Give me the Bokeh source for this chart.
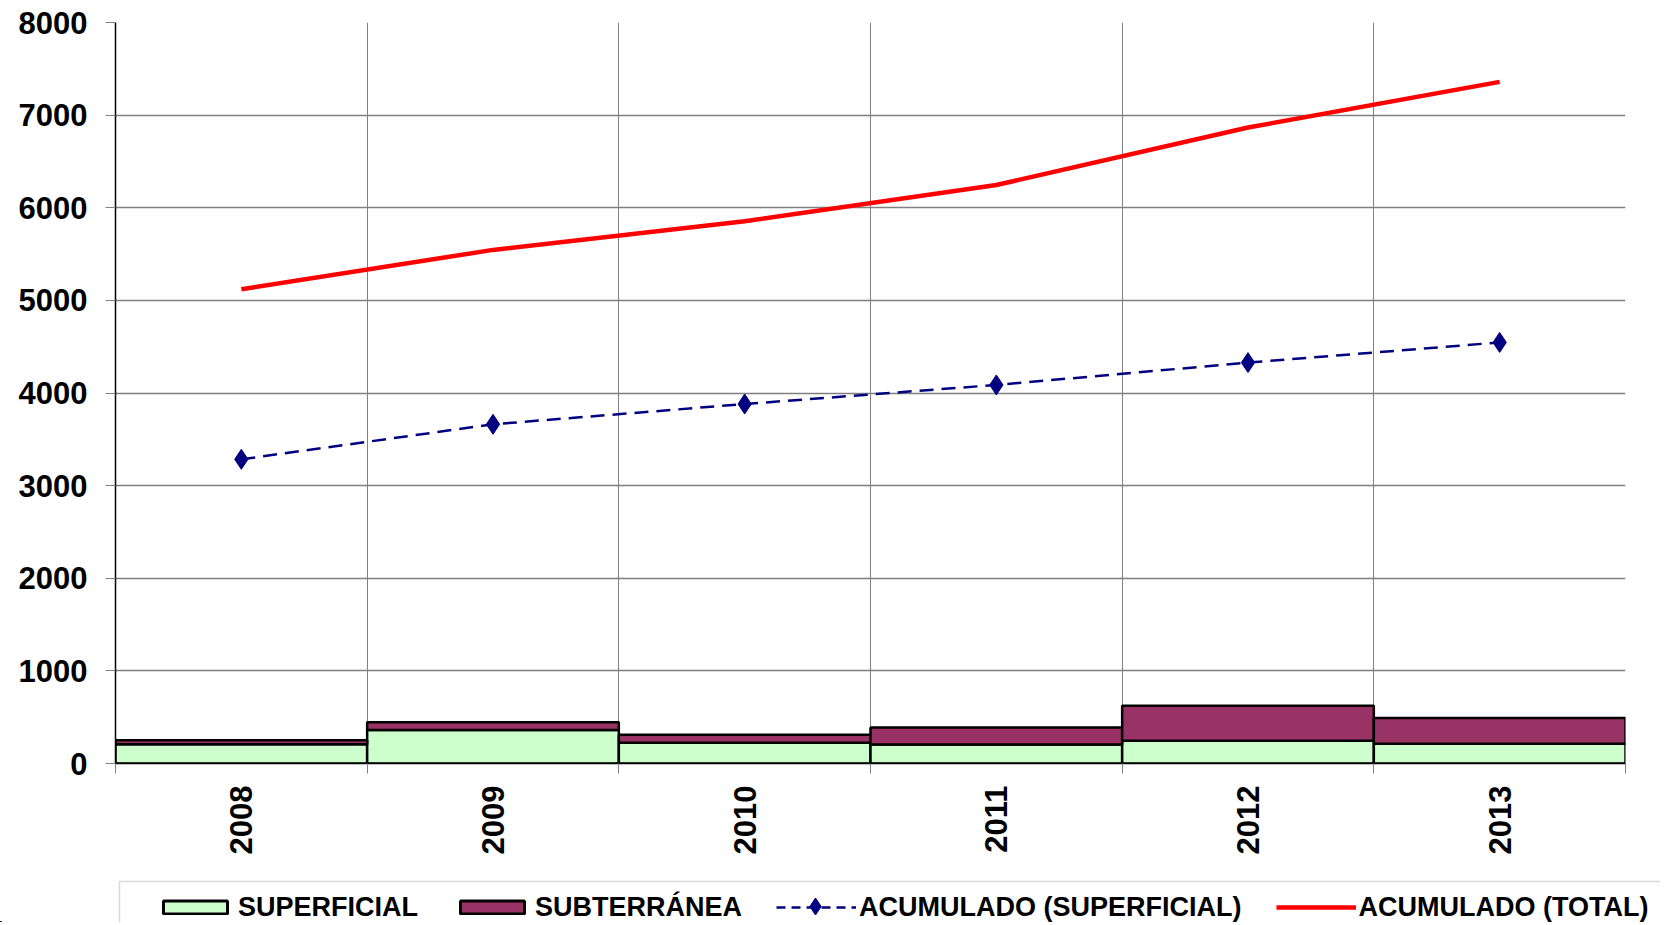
import math
from bokeh.plotting import figure
from bokeh.models import (Range1d, FixedTicker, LinearAxis, Legend, LegendItem,
                          ColumnDataSource, BoxAnnotation)
from bokeh.embed import file_html
from bokeh.resources import INLINE

# ---- data ----
years = ["2008", "2009", "2010", "2011", "2012", "2013"]
superficial = [208, 361, 224, 206, 246, 213]
subterranea = [43, 83, 87, 184, 378, 278]
acum_superficial = [3284, 3662, 3881, 4087, 4328, 4546]
acum_total = [5120, 5545, 5855, 6245, 6866, 7359]
y_ticks = [0, 1000, 2000, 3000, 4000, 5000, 6000, 7000, 8000]
legend_labels = ["SUPERFICIAL", "SUBTERRÁNEA", "ACUMULADO (SUPERFICIAL)", "ACUMULADO (TOTAL)"]

FONT = "Liberation Sans"
W = 1660
GREEN = "#CCFFCC"
PURPLE = "#993366"
NAVY = "#000080"
RED = "#FF0000"
GRID = "#808080"

n = len(years)
centers = [i + 0.5 for i in range(n)]
bounds = list(range(n + 1))

src = ColumnDataSource(dict(
    x=centers,
    sup=superficial,
    sub_bottom=superficial,
    sub_top=[a + b for a, b in zip(superficial, subterranea)],
    acs=acum_superficial,
    act=acum_total,
))

p = figure(width=W, height=862, output_backend="svg", toolbar_location=None,
           x_range=Range1d(0, n), y_range=Range1d(0, 8000),
           min_border_left=115, min_border_right=35, min_border_top=22,
           min_border_bottom=99, x_axis_location=None, outline_line_color=None,
           background_fill_color="white", border_fill_color="white")

# y axis
p.yaxis.ticker = FixedTicker(ticks=y_ticks)
p.yaxis.major_label_text_font = FONT
p.yaxis.major_label_text_font_style = "bold"
p.yaxis.major_label_text_font_size = "31px"
p.yaxis.major_label_text_color = "black"
p.yaxis.major_tick_out = 10
p.yaxis.major_tick_in = 0
p.yaxis.major_tick_line_color = GRID
p.yaxis.minor_tick_line_color = None
p.yaxis.major_label_standoff = 18
p.yaxis.axis_line_color = "black"
p.yaxis.axis_line_width = 1.5

# x axis: boundary ticks
ax_ticks = LinearAxis(ticker=FixedTicker(ticks=bounds),
                      major_label_overrides={b: "" for b in bounds},
                      major_label_text_font_size="0px", major_label_standoff=0,
                      major_tick_out=10, major_tick_in=0,
                      major_tick_line_color=GRID,
                      minor_tick_line_color=None, axis_line_color="black",
                      axis_line_width=1.5)
p.add_layout(ax_ticks, "below")

# x axis: year labels at centers
ax_lab = LinearAxis(ticker=FixedTicker(ticks=centers),
                    major_label_overrides={c: y for c, y in zip(centers, years)},
                    major_label_orientation=math.pi / 2,
                    major_label_text_font=FONT, major_label_text_font_style="bold",
                    major_label_text_font_size="31px", major_label_text_color="black",
                    major_label_standoff=12, major_tick_out=0, major_tick_in=0,
                    minor_tick_line_color=None, axis_line_color=None)
p.add_layout(ax_lab, "below")

# grids
p.xgrid.ticker = FixedTicker(ticks=bounds)
p.ygrid.ticker = FixedTicker(ticks=y_ticks)
p.xgrid.grid_line_color = GRID
p.ygrid.grid_line_color = GRID
p.xgrid.grid_line_width = 1
p.ygrid.grid_line_width = 1.5

# bars
p.vbar(x="x", width=1, bottom=0, top="sup", source=src,
       fill_color=GREEN, line_color="black", line_width=2.5)
p.vbar(x="x", width=1, bottom="sub_bottom", top="sub_top", source=src,
       fill_color=PURPLE, line_color="black", line_width=2.5)

# lines
p.line(x="x", y="acs", source=src, line_color=NAVY, line_width=2.5, line_dash="14 8")
p.scatter(x="x", y="acs", source=src, marker="diamond", size=20,
          fill_color=NAVY, line_color=NAVY)
p.line(x="x", y="act", source=src, line_color=RED, line_width=4.5)

# ---- legend strip (separate root so it is not clipped by the plot frame) ----
LH = 60
pl = figure(width=W, height=LH, output_backend="svg", toolbar_location=None,
            x_range=Range1d(0, W), y_range=Range1d(0, LH),
            x_axis_location=None, y_axis_location=None, outline_line_color=None,
            min_border=0, min_border_left=0, min_border_right=0,
            min_border_top=0, min_border_bottom=0,
            background_fill_color="white", border_fill_color="white")
pl.xgrid.visible = False
pl.ygrid.visible = False
# key glyphs reuse the chart data, mapped to ranges that keep them out of view
pl.extra_x_ranges = {"off": Range1d(1000, 1001)}
pl.extra_y_ranges = {"off": Range1d(100000, 100001)}

kw = dict(source=src, x_range_name="off", y_range_name="off")
l_sup = pl.vbar(x="x", top="sup", width=1, fill_color=GREEN,
                line_color="black", line_width=3, **kw)
l_sub = pl.vbar(x="x", bottom="sub_bottom", top="sub_top", width=1, fill_color=PURPLE,
                line_color="black", line_width=3, **kw)
l_acs = pl.line(x="x", y="acs", line_color=NAVY, line_width=2.5, line_dash="9 6", **kw)
l_act = pl.line(x="x", y="act", line_color=RED, line_width=4.5, **kw)

# legend box outline (only top and left edges fall inside the page)
pl.add_layout(BoxAnnotation(left=119, right=W + 200, top=LH - 19, bottom=-200,
                            fill_alpha=0, line_color=GRID, line_width=1.5))

legend = Legend(items=[
    LegendItem(label=legend_labels[0], renderers=[l_sup]),
    LegendItem(label=legend_labels[1], renderers=[l_sub]),
    LegendItem(label=legend_labels[2], renderers=[l_acs]),
    LegendItem(label=legend_labels[3], renderers=[l_act]),
], orientation="horizontal", location=(155, -1),
    label_text_font=FONT, label_text_font_style="bold", label_text_font_size="27px",
    label_text_color="black", glyph_width=80, glyph_height=16, label_height=32,
    label_standoff=3, spacing=34, padding=10, border_line_color=None,
    background_fill_alpha=0.0)
pl.add_layout(legend)

# diamond symbol of the "ACUMULADO (SUPERFICIAL)" key (legend markers render tiny)
pl.scatter(x=[815], y=[16], marker="diamond", size=17, fill_color=NAVY, line_color=NAVY)

open("out.html", "w").write(file_html([p, pl], INLINE))
